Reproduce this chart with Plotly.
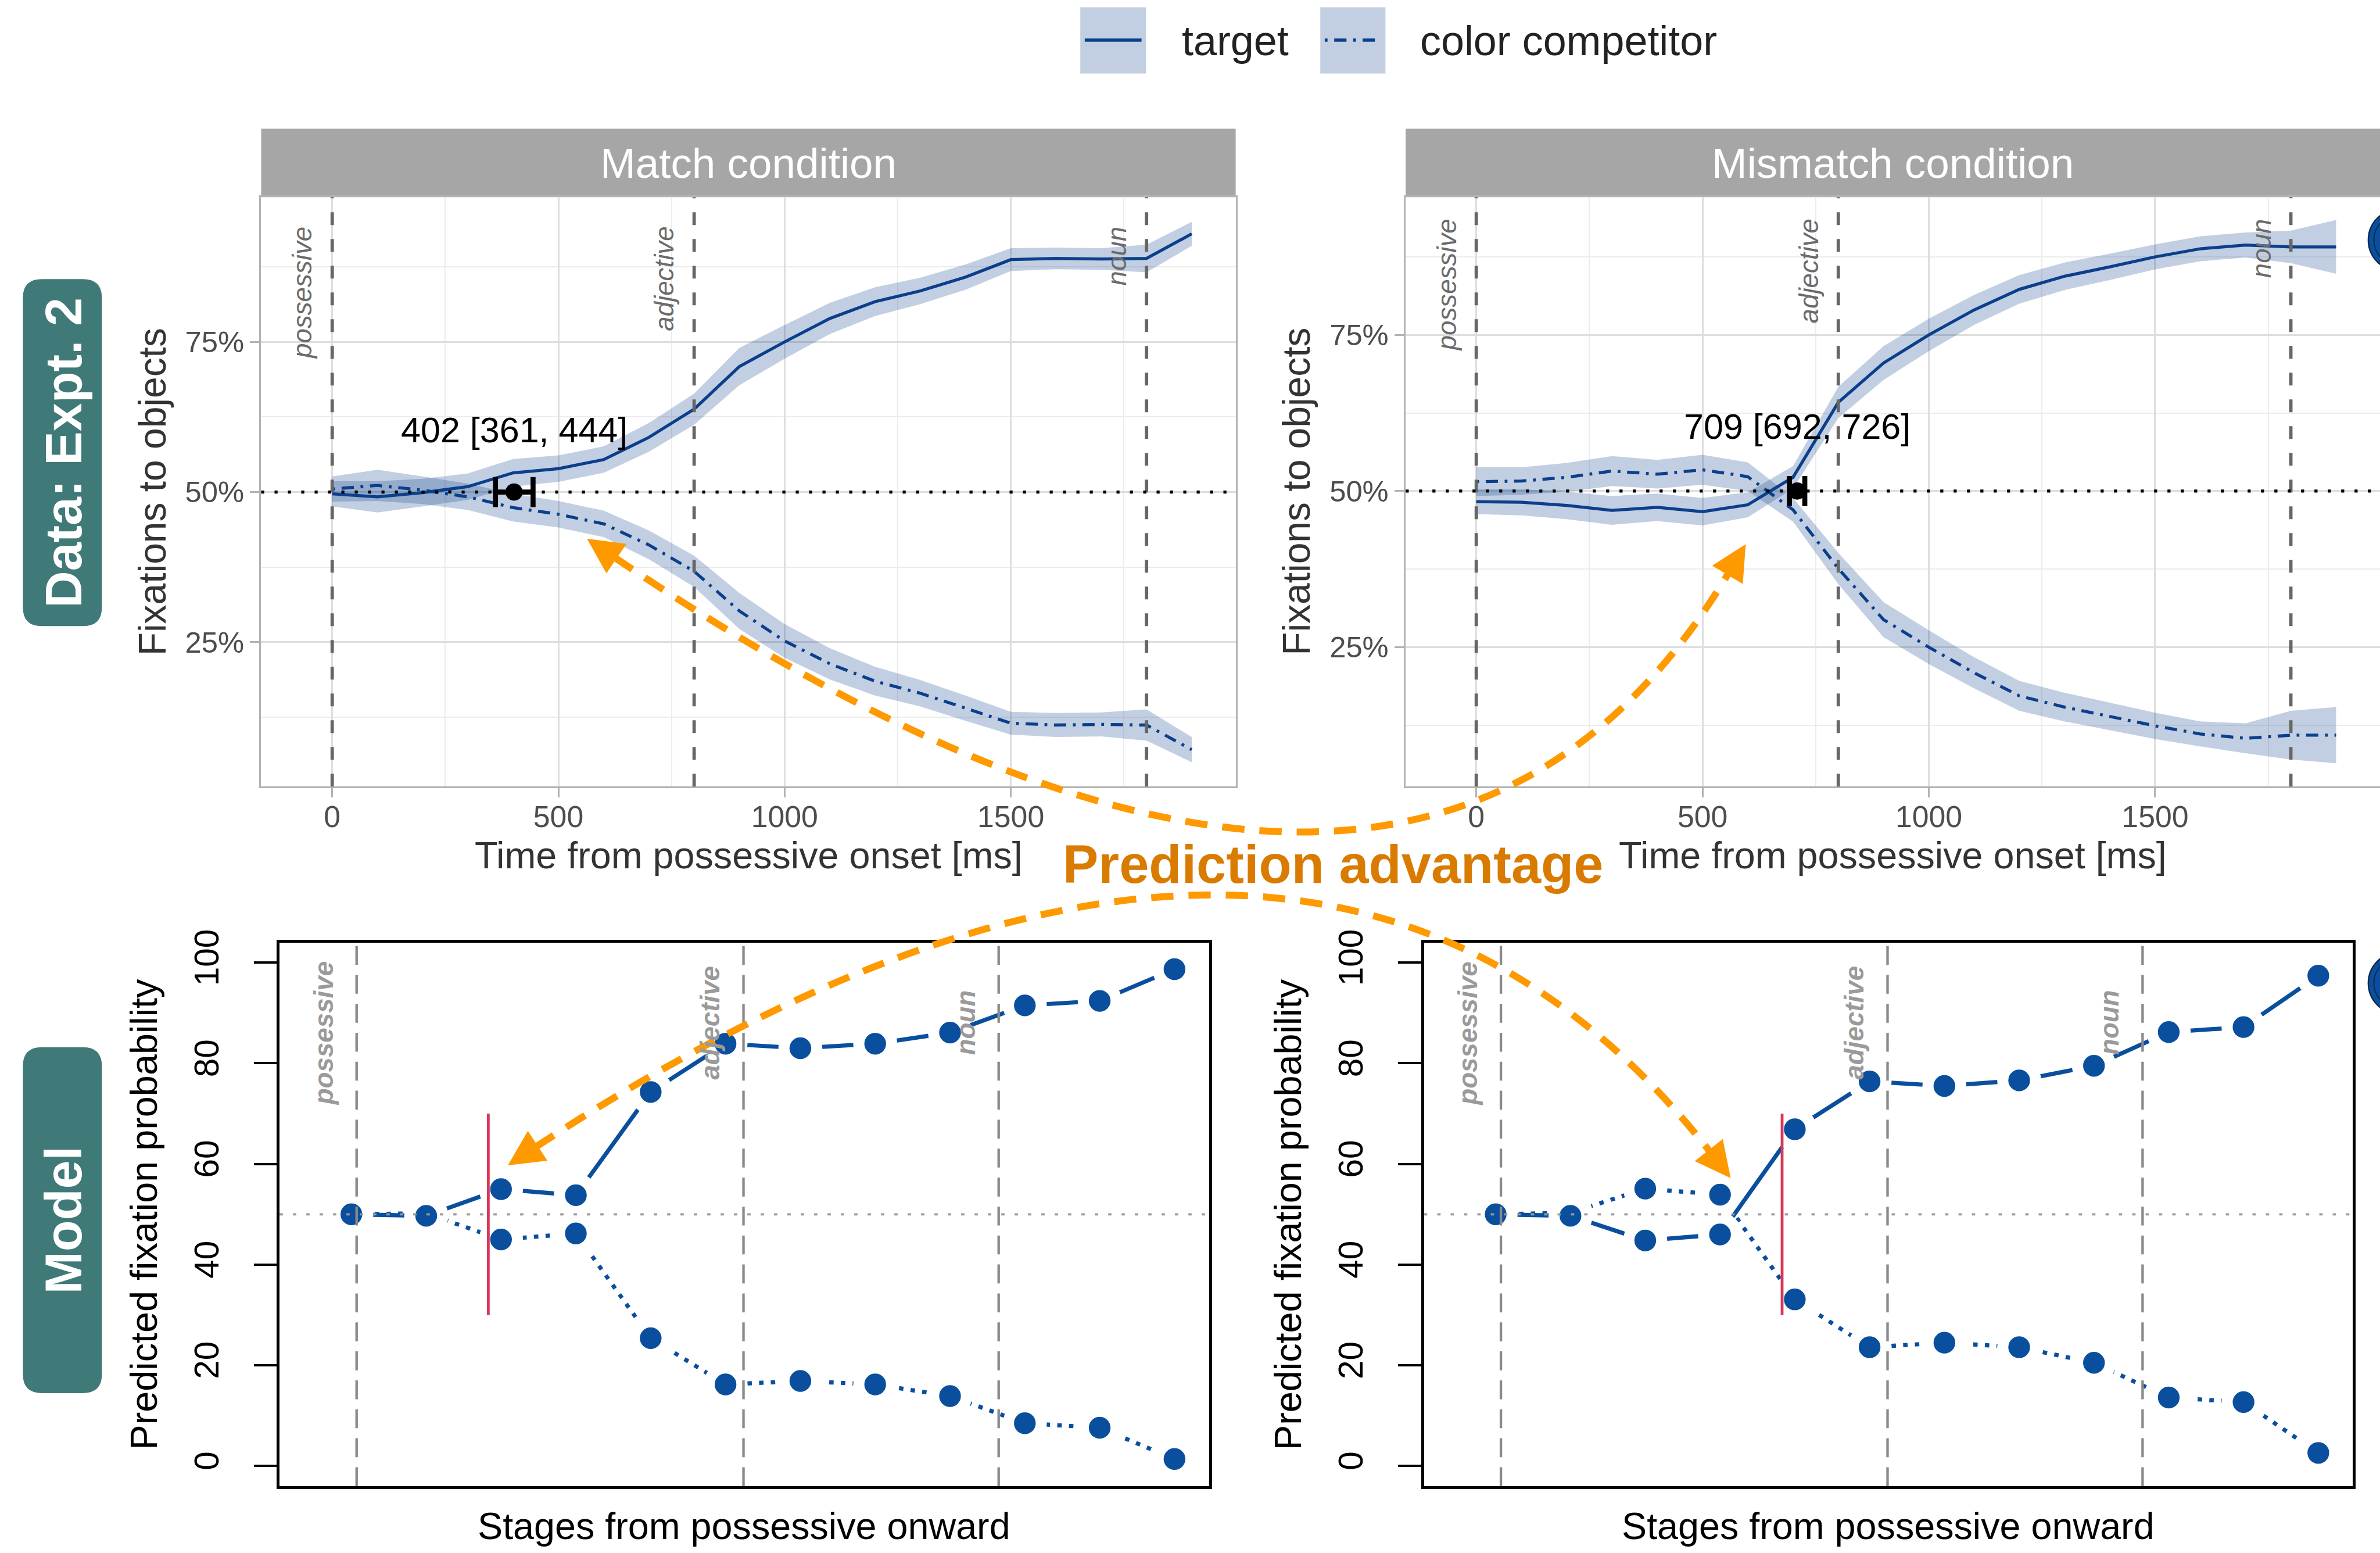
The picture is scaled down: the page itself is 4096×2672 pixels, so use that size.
import plotly.graph_objects as go

# ---------------- canvas / helpers ----------------
W, H = 4096, 2672
RW, RH = 4274, 2788
S = W / RW


def fx(x):
    return x / RW


def fy(y):
    return 1 - y / RH


def sz(v):
    return v * S


FONT = "Liberation Sans"

# ---------------- data: eye-tracking (Expt. 2) ----------------
time_ms = [0, 100, 200, 300, 400, 500, 600, 700, 800, 900,
           1000, 1100, 1200, 1300, 1400, 1500, 1600, 1700, 1800, 1900]

match_target = [49.7, 49.2, 49.9, 50.9, 53.2, 53.9, 55.4, 59.1, 63.8, 70.9,
                75.0, 78.9, 81.7, 83.5, 85.8, 88.7, 88.9, 88.8, 88.9, 93.0]
match_target_se = [2.1, 2.6, 2.3, 2.2, 2.3, 2.2, 2.2, 2.4, 2.6, 3.1,
                   2.8, 2.6, 2.4, 2.2, 2.1, 1.9, 1.8, 1.8, 2.3, 2.0]
match_comp = [50.5, 51.1, 50.3, 49.2, 47.4, 46.3, 44.7, 41.2, 36.8, 30.2,
              25.2, 21.4, 18.5, 16.5, 14.0, 11.5, 11.2, 11.3, 11.2, 7.1]
match_comp_se = [2.1, 2.6, 2.3, 2.2, 2.3, 2.2, 2.2, 2.4, 2.6, 3.0,
                 2.8, 2.6, 2.4, 2.2, 2.1, 1.9, 2.0, 2.0, 2.6, 2.1]

mismatch_target = [48.3, 48.2, 47.7, 46.9, 47.4, 46.7, 47.8, 52.2, 64.2, 70.5,
                   75.0, 79.0, 82.3, 84.4, 85.9, 87.5, 88.8, 89.4, 89.1, 89.1]
mismatch_target_se = [2.0, 2.1, 2.2, 2.3, 2.2, 2.2, 2.0, 1.8, 2.5, 2.7,
                      2.6, 2.4, 2.3, 2.2, 2.1, 2.0, 2.0, 2.0, 2.6, 4.3]
mismatch_comp = [51.5, 51.6, 52.2, 53.2, 52.7, 53.4, 52.3, 47.0, 37.6, 29.4,
                 25.0, 20.9, 17.2, 15.4, 13.9, 12.4, 11.1, 10.4, 10.9, 10.9]
mismatch_comp_se = [2.3, 2.2, 2.3, 2.4, 2.3, 2.4, 2.3, 1.9, 2.5, 2.8,
                    2.7, 2.5, 2.4, 2.3, 2.2, 2.1, 2.0, 2.4, 3.9, 4.5]

# divergence point estimates [estimate, lower, upper]
match_divergence = [402, 361, 444]
mismatch_divergence = [709, 692, 726]

word_onsets_ms = [0, 800, 1800]
word_labels = ["possessive", "adjective", "noun"]

x_ticks_ms = [0, 500, 1000, 1500]
x_minor_ms = [250, 750, 1250, 1750]
y_ticks_pct = [25, 50, 75]
y_ticklabels_pct = ["25%", "50%", "75%"]
y_minor_pct = [12.5, 37.5, 62.5, 87.5]

# ---------------- data: model ----------------
stages = [1, 2, 3, 4, 5, 6, 7, 8, 9, 10, 11, 12]
model_match_target = [50.0, 49.7, 55.0, 53.8, 74.3, 83.9, 83.0, 83.9, 86.1, 91.5, 92.4, 98.7]
model_match_comp = [50.0, 50.2, 45.0, 46.2, 25.4, 16.2, 16.9, 16.2, 13.9, 8.5, 7.6, 1.4]
model_mismatch_target = [50.0, 49.7, 44.8, 46.0, 66.9, 76.4, 75.5, 76.6, 79.5, 86.2, 87.2, 97.4]
model_mismatch_comp = [50.0, 50.3, 55.1, 53.9, 33.1, 23.6, 24.5, 23.6, 20.5, 13.6, 12.7, 2.6]
model_word_lines = [1.07, 6.24, 9.65]
model_label_tops = [100.4, 99.6, 94.8]
model_divergence = [2.83, 4.83]
model_y_ticks = [0, 20, 40, 60, 80, 100]

series_names = ["target", "color competitor"]

# ---------------- styles ----------------
BLUE_TOP = "#0b3f8c"
RIB = "rgba(11,63,140,0.25)"
BLUE_MOD = "#0a4f9e"
ORANGE = "#ff9900"
ORANGE_TXT = "#d97b00"
TEAL = "#407a78"
RED = "#d6395a"
STRIP = "#a6a6a6"
DOTDASH = f"{sz(5)}px,{sz(12)}px,{sz(22)}px,{sz(12)}px"

fig = go.Figure()


def add_ribbon(x, m, se, xa, ya):
    up = [a + b for a, b in zip(m, se)]
    lo = [a - b for a, b in zip(m, se)]
    fig.add_trace(go.Scatter(
        x=x + x[::-1], y=up + lo[::-1], fill="toself", fillcolor=RIB,
        mode="lines", line=dict(width=0), hoverinfo="skip", showlegend=False,
        xaxis=xa, yaxis=ya))


def add_line(x, m, dash, name, xa, ya):
    fig.add_trace(go.Scatter(
        x=x, y=m, mode="lines", name=name,
        line=dict(color=BLUE_TOP, width=sz(5.5), dash=dash),
        showlegend=False, xaxis=xa, yaxis=ya))


panels_top = [
    ("x", "y", match_target, match_target_se, match_comp, match_comp_se, match_divergence),
    ("x2", "y2", mismatch_target, mismatch_target_se, mismatch_comp, mismatch_comp_se, mismatch_divergence),
]

for xa, ya, tg, tgse, cp, cpse, dv in panels_top:
    add_ribbon(time_ms, tg, tgse, xa, ya)
    add_ribbon(time_ms, cp, cpse, xa, ya)
    add_line(time_ms, tg, "solid", series_names[0], xa, ya)
    add_line(time_ms, cp, DOTDASH, series_names[1], xa, ya)

# ---------------- model panels ----------------
panels_bot = [
    ("x3", "y3", model_match_target, model_match_comp, model_divergence[0]),
    ("x4", "y4", model_mismatch_target, model_mismatch_comp, model_divergence[1]),
]
for xa, ya, tg, cp, dv in panels_bot:
    for vals, dash, nm in [(cp, f"{sz(8)}px,{sz(13)}px", series_names[1]),
                           (tg, "solid", series_names[0])]:
        fig.add_trace(go.Scatter(
            x=stages, y=vals, mode="lines+markers", name=nm,
            line=dict(color=BLUE_MOD, width=sz(7.5), dash=dash),
            marker=dict(color=BLUE_MOD, size=sz(59), line=dict(color="white", width=sz(20))),
            showlegend=False, xaxis=xa, yaxis=ya))

# divergence error bars (top)
for (xa, ya, tg, tgse, cp, cpse, dv) in panels_top:
    fig.add_trace(go.Scatter(
        x=[dv[0]], y=[50], mode="markers",
        marker=dict(color="black", size=sz(31)),
        error_x=dict(type="data", symmetric=False, array=[dv[2] - dv[0]],
                     arrayminus=[dv[0] - dv[1]], color="black",
                     thickness=sz(9), width=sz(27)),
        showlegend=False, xaxis=xa, yaxis=ya))

# ---------------- axes ----------------
def top_x(domain, rng):
    return dict(domain=domain, range=rng, tickvals=x_ticks_ms, ticks="outside",
                ticklen=sz(17), tickwidth=sz(3), tickcolor="#b3b3b3",
                tickfont=dict(family=FONT, size=sz(54), color="#4d4d4d"),
                ticklabelstandoff=-12,
                showgrid=True, gridcolor="#dedede", gridwidth=sz(3),
                minor=dict(tickvals=x_minor_ms, showgrid=True, gridcolor="#ececec",
                           gridwidth=sz(1.8), ticks=""),
                showline=True, mirror=True, linecolor="#b3b3b3", linewidth=sz(3),
                zeroline=False, fixedrange=True, automargin=False)


def top_y(anchor, rng):
    return dict(domain=[fy(1412), fy(354)], range=rng, tickvals=y_ticks_pct,
                ticktext=y_ticklabels_pct, ticks="outside", ticklen=sz(17),
                tickwidth=sz(3), tickcolor="#b3b3b3",
                tickfont=dict(family=FONT, size=sz(53), color="#4d4d4d"),
                showgrid=True, gridcolor="#dedede", gridwidth=sz(3),
                minor=dict(tickvals=y_minor_pct, showgrid=True, gridcolor="#ececec",
                           gridwidth=sz(1.8), ticks=""),
                showline=True, mirror=True, linecolor="#b3b3b3", linewidth=sz(3),
                zeroline=False, anchor=anchor, fixedrange=True, automargin=False)


def bot_x(domain, anchor):
    return dict(domain=domain, range=[0.04, 12.46], showticklabels=False, ticks="",
                showgrid=False, showline=True, mirror=True, linecolor="black",
                linewidth=sz(5), zeroline=False, anchor=anchor, fixedrange=True,
                automargin=False)


def bot_y(anchor):
    return dict(domain=[fy(2668), fy(1692)], range=[-4, 104], tickvals=model_y_ticks,
                ticks="outside", ticklen=sz(41), tickwidth=sz(4), tickcolor="black",
                tickangle=-90, ticklabelstandoff=int(round(sz(40))),
                tickfont=dict(family=FONT, size=sz(61), color="black"),
                showgrid=False, showline=True, mirror=True, linecolor="black",
                linewidth=sz(5), zeroline=False, anchor=anchor, fixedrange=True,
                automargin=False)


fig.update_layout(
    width=W, height=H, autosize=False,
    margin=dict(l=0, r=0, t=0, b=0, pad=0, autoexpand=False),
    paper_bgcolor="white", plot_bgcolor="white",
    showlegend=False,
    font=dict(family=FONT),
    xaxis=dict(top_x([fx(469), fx(2219)], [-157, 1997]), anchor="y"),
    yaxis=top_y("x", [0.96, 99.1]),
    xaxis2=dict(top_x([fx(2524.3), 1.0], [-156, 1997]), anchor="y2"),
    yaxis2=top_y("x2", [2.68, 97.06]),
    xaxis3=bot_x([fx(502), fx(2171)], "y3"),
    yaxis3=bot_y("x3"),
    xaxis4=bot_x([fx(2557), fx(4225)], "y4"),
    yaxis4=bot_y("x4"),
)

shapes = []
ann = []

# strips
for x0, x1, title in [(469, 2219, "Match condition"), (2524.3, 4274, "Mismatch condition")]:
    shapes.append(dict(type="rect", xref="paper", yref="paper", x0=fx(x0), x1=fx(x1),
                       y0=fy(354), y1=fy(231), fillcolor=STRIP, line=dict(width=0), layer="below"))
    ann.append(dict(text=title, xref="paper", yref="paper", x=fx((x0 + x1) / 2), y=fy(293),
                    showarrow=False, font=dict(family=FONT, size=sz(76), color="white"),
                    xanchor="center", yanchor="middle"))

# top panel reference lines + labels
for xa, ya, top in [("x", "y", 94.4), ("x2", "y2", 93.8)]:
    for on, lab in zip(word_onsets_ms, word_labels):
        shapes.append(dict(type="line", xref=xa, yref=f"{ya} domain", x0=on, x1=on, y0=0, y1=1,
                           line=dict(color="#666666", width=sz(6), dash=f"{sz(23)}px,{sz(25)}px"),
                           layer="above"))
        ann.append(dict(text=f"<i>{lab}</i>", xref=xa, yref=ya, x=on - 65, y=top,
                        textangle=-90, showarrow=False, xanchor="center", yanchor="top",
                        font=dict(family=FONT, size=sz(47.7), color="#6b6b6b")))
    shapes.append(dict(type="line", xref=f"{xa} domain", yref=ya, x0=0, x1=1, y0=50, y1=50,
                       line=dict(color="black", width=sz(5.5), dash=f"{sz(5.5)}px,{sz(18.5)}px"),
                       layer="above"))

for xa, ya, dv in [("x", "y", match_divergence), ("x2", "y2", mismatch_divergence)]:
    ann.append(dict(text=f"{dv[0]} [{dv[1]}, {dv[2]}]", xref=xa, yref=ya, x=dv[0], y=60.3,
                    showarrow=False, xanchor="center", yanchor="middle",
                    font=dict(family=FONT, size=sz(63.7), color="black")))

# bottom panel reference lines + labels
for xa, ya, dv in [("x3", "y3", model_divergence[0]), ("x4", "y4", model_divergence[1])]:
    for xl, lab, top in zip(model_word_lines, word_labels, model_label_tops):
        shapes.append(dict(type="line", xref=xa, yref=f"{ya} domain", x0=xl, x1=xl, y0=0, y1=1,
                           line=dict(color="#8a8a8a", width=sz(4.5), dash=f"{sz(34)}px,{sz(18)}px"),
                           layer="above"))
        ann.append(dict(text=f"<b><i>{lab}</i></b>", xref=xa, yref=ya, x=xl - 0.44, y=top,
                        textangle=-90, showarrow=False, xanchor="center", yanchor="top",
                        font=dict(family=FONT, size=sz(47.7), color="#9a9a9a")))
    shapes.append(dict(type="line", xref=f"{xa} domain", yref=ya, x0=0, x1=1, y0=50, y1=50,
                       line=dict(color="#999999", width=sz(4), dash=f"{sz(6)}px,{sz(18)}px"),
                       layer="above"))
    shapes.append(dict(type="line", xref=xa, yref=ya, x0=dv, x1=dv, y0=30, y1=70,
                       line=dict(color=RED, width=sz(5)), layer="above"))

# axis titles
for xc in [273.5, 2328.5]:
    ann.append(dict(text="Fixations to objects", xref="paper", yref="paper", x=fx(xc), y=fy(883),
                    textangle=-90, showarrow=False, xanchor="center", yanchor="middle",
                    font=dict(family=FONT, size=sz(68.8), color="#333333")))
for xc in [1344, 3399]:
    ann.append(dict(text="Time from possessive onset [ms]", xref="paper", yref="paper",
                    x=fx(xc), y=fy(1535), showarrow=False, xanchor="center", yanchor="middle",
                    font=dict(family=FONT, size=sz(67.5), color="#333333")))
for xc in [258, 2313]:
    ann.append(dict(text="Predicted fixation probability", xref="paper", yref="paper",
                    x=fx(xc), y=fy(2180), textangle=-90, showarrow=False,
                    xanchor="center", yanchor="middle",
                    font=dict(family=FONT, size=sz(67.6), color="black")))
for xc in [1336.5, 3391]:
    ann.append(dict(text="Stages from possessive onward", xref="paper", yref="paper",
                    x=fx(xc), y=fy(2740), showarrow=False, xanchor="center", yanchor="middle",
                    font=dict(family=FONT, size=sz(67.5), color="black")))

# side tags (rounded boxes)
def rounded_rect(x0, y0, x1, y1, r):
    p = [
        f"M {fx(x0 + r)},{fy(y0)}",
        f"L {fx(x1 - r)},{fy(y0)}",
        f"Q {fx(x1)},{fy(y0)} {fx(x1)},{fy(y0 + r)}",
        f"L {fx(x1)},{fy(y1 - r)}",
        f"Q {fx(x1)},{fy(y1)} {fx(x1 - r)},{fy(y1)}",
        f"L {fx(x0 + r)},{fy(y1)}",
        f"Q {fx(x0)},{fy(y1)} {fx(x0)},{fy(y1 - r)}",
        f"L {fx(x0)},{fy(y0 + r)}",
        f"Q {fx(x0)},{fy(y0)} {fx(x0 + r)},{fy(y0)} Z",
    ]
    return " ".join(p)


for (y0, y1, label) in [(501, 1124, "Data: Expt. 2"), (1880, 2501, "Model")]:
    shapes.append(dict(type="path", xref="paper", yref="paper",
                       path=rounded_rect(41, y0, 183, y1, 34),
                       fillcolor=TEAL, line=dict(width=0), layer="above"))
    ann.append(dict(text=f"<b>{label}</b>", xref="paper", yref="paper", x=fx(114),
                    y=fy((y0 + y1) / 2), textangle=-90, showarrow=False,
                    xanchor="center", yanchor="middle",
                    font=dict(family=FONT, size=sz(92), color="white")))

# legend (manual)
for kx0, kx1, tx, dash, name in [(1940, 2058, 2120, "solid", series_names[0]),
                                  (2371, 2488, 2548, DOTDASH, series_names[1])]:
    shapes.append(dict(type="rect", xref="paper", yref="paper", x0=fx(kx0), x1=fx(kx1),
                       y0=fy(132), y1=fy(13), fillcolor=RIB, line=dict(width=0)))
    shapes.append(dict(type="line", xref="paper", yref="paper", x0=fx(kx0 + 8), x1=fx(kx1 - 8),
                       y0=fy(72), y1=fy(72),
                       line=dict(color=BLUE_TOP, width=sz(5.5), dash=dash)))
    ann.append(dict(text=name, xref="paper", yref="paper", x=fx(tx), y=fy(73),
                    showarrow=False, xanchor="left", yanchor="middle",
                    font=dict(family=FONT, size=sz(75), color="#222222")))

# prediction advantage annotation + curved arrows
ann.append(dict(text="<b>Prediction advantage</b>", xref="paper", yref="paper",
                x=fx(2394), y=fy(1552), showarrow=False, xanchor="center", yanchor="middle",
                font=dict(family=FONT, size=sz(96), color=ORANGE_TXT)))


def curved_arrow(p0, c, p3, L=64, Wd=64):
    out = []

    def head(tip):
        dx, dy = tip[0] - c[0], tip[1] - c[1]
        n = (dx * dx + dy * dy) ** 0.5
        ux, uy = dx / n, dy / n
        bx, by = tip[0] - ux * L, tip[1] - uy * L
        nx, ny = -uy, ux
        c1 = (bx + nx * Wd / 2, by + ny * Wd / 2)
        c2 = (bx - nx * Wd / 2, by - ny * Wd / 2)
        tri = (f"M {fx(tip[0])},{fy(tip[1])} L {fx(c1[0])},{fy(c1[1])} "
               f"L {fx(c2[0])},{fy(c2[1])} Z")
        return (bx + ux * 6, by + uy * 6), tri

    b0, t0 = head(p0)
    b3, t3 = head(p3)
    out.append(dict(type="path", xref="paper", yref="paper",
                    path=f"M {fx(b0[0])},{fy(b0[1])} Q {fx(c[0])},{fy(c[1])} {fx(b3[0])},{fy(b3[1])}",
                    line=dict(color=ORANGE, width=sz(12.5), dash=f"{sz(40)}px,{sz(27)}px"),
                    layer="above"))
    for t in (t0, t3):
        out.append(dict(type="path", xref="paper", yref="paper", path=t,
                        fillcolor=ORANGE, line=dict(width=0), layer="above"))
    return out


shapes += curved_arrow((1054, 967), (2540, 1974), (3135, 977))
shapes += curved_arrow((912, 2092), (2350, 1148.5), (3108, 2115))

# cut-off panel badges at the right edge
for cy in [431, 1765]:
    shapes.append(dict(type="circle", xref="paper", yref="paper",
                       x0=fx(4253), x1=fx(4364), y0=fy(cy + 55.5), y1=fy(cy - 55.5),
                       fillcolor=BLUE_MOD, line=dict(color="#0d2a4d", width=sz(2.5))))
    shapes.append(dict(type="circle", xref="paper", yref="paper",
                       x0=fx(4263), x1=fx(4354), y0=fy(cy + 45.5), y1=fy(cy - 45.5),
                       line=dict(color="#0d2a4d", width=sz(2))))

fig.update_layout(shapes=shapes, annotations=ann)

fig.write_html("out.html", config={"displayModeBar": False},
               post_script="document.body.style.margin='0';document.body.style.overflow='hidden';")
